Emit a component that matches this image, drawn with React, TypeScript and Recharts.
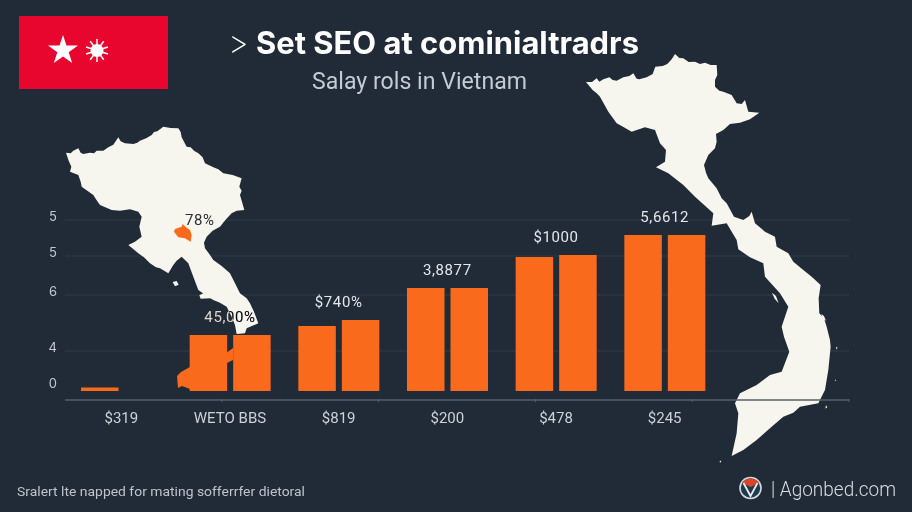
import { ComposedChart, Bar, Line, XAxis, YAxis, CartesianGrid, LabelList } from 'recharts';

const categories = ['$319', 'WETO BBS', '$819', '$200', '$478', '$245'];
const seriesA = [3.5, 56, 65, 103, 134, 156];
const seriesB = [0, 56, 71, 103, 136, 156];
const barLabels = ['', '45,00%', '$740%', '3,8877', '$1000', '5,6612'];
const yTicks = [0, 40, 96, 135, 171];
const yTickLabels = ['0', '4', '6', '5', '5'];
const gridValues = [40, 96, 135, 171];
const edgeTicks = [1, 2, 3, 4, 5, 6];

const data = categories.map((name, i) => ({
  name,
  a: seriesA[i],
  b: seriesB[i],
  top: Math.max(seriesA[i], seriesB[i]),
  label: barLabels[i],
}));

const BG = '#212a37';
const ORANGE = '#f96a1d';
const LAND = '#f6f6ee';
const FONT = 'Inter, "Noto Sans", sans-serif';
const LABEL_FONT = 'Roboto, Inter, sans-serif';

const LEFT_MAP =
  'M48 68L62 70L70 62L85 55L92 68L100 72L120 68L132 70L140 62L160 62L175 52L190 44L198 32L205 22L212 34L225 40L250 42L262 38L270 32L290 24L305 15L312 6L322 4L340 -10L362 -6L385 -5L392 6L395 22L410 50L422 52L432 62L445 70L458 82L465 100L490 112L505 118L520 130L548 135L575 145L568 170L575 182L570 195L576 215L583 240L560 242L545 250L528 268L510 290L488 302L470 320L462 338L465 355L478 372L490 390L515 408L540 430L555 460L570 490L590 505L600 520L612 545L625 580L590 595L585 610L560 612L555 585L545 560L530 530L510 518L490 510L470 498L445 480L430 440L415 400L395 380L380 392L370 405L355 430L330 415L318 412L300 400L282 382L265 370L235 345L255 335L275 320L268 290L275 260L265 245L240 238L210 242L185 240L150 225L138 208L130 195L95 170L92 155L85 135L60 125L64 110L56 92Z';
const LEFT_ISLES = 'M368 456L380 453L386 464L375 469ZM448 496L480 480L482 505L452 506Z';
const LEFT_BLOB = 'M375 297L395 290L398 282L408 292L420 300L425 315L422 335L405 325L385 322L372 305Z';
const RIGHT_MAP =
  'M18 96L36 96L50 85L58 95L70 88L88 82L98 90L110 92L130 82L148 78L160 70L170 86L178 88L200 82L218 72L226 50L248 48L262 42L275 28L285 12L298 24L310 25L326 36L345 35L360 42L375 38L392 45L410 45L412 75L405 90L405 110L418 122L430 125L455 135L470 160L485 162L495 150L505 185L538 188L510 208L480 218L450 222L430 240L408 252L410 275L405 295L385 315L372 345L378 368L385 385L410 415L425 445L440 460L462 500L490 510L508 498L515 485L525 520L555 545L585 560L590 590L625 610L640 635L670 660L695 680L722 705L716 745L718 790L732 805L740 830L750 870L752 890L748 930L745 960L735 1020L715 1060L660 1070L640 1088L610 1100L575 1130L530 1170L490 1200L455 1218L470 1150L475 1090L465 1060L480 1030L530 1005L570 975L605 965L628 905L612 860L605 830L625 770L600 730L555 680L550 640L510 622L475 598L470 570L440 520L395 527L400 490L345 440L310 405L265 370L228 352L255 335L258 300L240 280L225 240L195 232L155 245L125 228L110 220L85 185L60 140L50 130L38 120Z';
const RIGHT_ISLES =
  'M576 728L588 738L596 760L584 746ZM724 792L732 798L738 812L728 806ZM768 892L772 890L771 900ZM764 990L768 989L767 994ZM738 1066L742 1072L736 1076ZM418 1233L424 1232L422 1238Z';
const STAR = 'M63 35L66.5 45.5L78 45.5L68.7 52.3L72.2 63L63 56.5L53.8 63L57.3 52.3L48 45.5L59.5 45.5Z';
const SUN_RAYS = [0, 36, 72, 108, 144, 180, 216, 252, 288, 324];

const YTick = ({ x, y, index }: any) => (
  <text x={x} y={y} dy={index === 0 ? -3 : 1} textAnchor="end" fontFamily={FONT} fontSize={13} fill="#c3c9cf">
    {yTickLabels[index]}
  </text>
);

const GroupLabel = ({ x, y, width, value }: any) => (
  <text
    x={x + (width || 0) / 2}
    y={y - 13}
    textAnchor="middle"
    fontFamily={LABEL_FONT}
    fontSize={15}
    letterSpacing={0.6}
    fill={value === '45,00%' ? '#ffffff' : '#e4e7ea'}
    style={value === '45,00%' ? { mixBlendMode: 'difference' } : undefined}
  >
    {value}
  </text>
);

export default function App() {
  return (
    <div style={{ position: 'absolute', left: 0, top: 0, width: 912, height: 512, background: BG, overflow: 'hidden' }}>
      <ComposedChart
        width={912}
        height={512}
        data={data}
        margin={{ top: 199, right: 63, bottom: 83, left: 40 }}
        barSize={37.5}
        barGap={6}
      >
        <CartesianGrid xAxisId="names" horizontal vertical={false} horizontalValues={gridValues} stroke="#313c49" strokeWidth={1} />
        <XAxis
          xAxisId="edges"
          type="number"
          domain={[0, 7.215]}
          ticks={edgeTicks}
          interval={0}
          height={1}
          axisLine={false}
          tickLine={{ stroke: '#56616d' }}
          tickSize={3}
          tickFormatter={(v: number) => (v ? ' ' : ' ')}
        />
        <XAxis
          xAxisId="names"
          dataKey="name"
          height={29}
          padding={{ left: 2, right: 130 }}
          interval={0}
          tickLine={false}
          axisLine={{ stroke: '#56616d', strokeWidth: 1.5 }}
          tick={{ fill: '#cdd2d7', fontSize: 15, fontFamily: LABEL_FONT }}
          tickMargin={6}
        />
        <YAxis
          width={25}
          domain={[0, 192]}
          padding={{ bottom: 8 }}
          ticks={yTicks}
          interval={0}
          axisLine={false}
          tickLine={false}
          tick={<YTick />}
        />

        <g fill={LAND}>
          <g transform="translate(50 130) scale(0.3333)">
            <path d={LEFT_MAP} />
            <path d={LEFT_ISLES} />
            <path d={LEFT_BLOB} fill={ORANGE} />
          </g>
          <g transform="translate(580 50) scale(0.3333)">
            <path d={RIGHT_MAP} />
            <path d={RIGHT_ISLES} />
          </g>
        </g>

        <Bar xAxisId="names" dataKey="a" fill={ORANGE} isAnimationActive={false} />
        <Bar xAxisId="names" dataKey="b" fill={ORANGE} isAnimationActive={false} />
        <Line xAxisId="names" dataKey="top" stroke="none" dot={false} legendType="none" isAnimationActive={false}>
          <LabelList dataKey="label" content={<GroupLabel />} />
        </Line>

        {/* bits of orange that bleed off the bars */}
        <g fill={ORANGE}>
          <path d="M177 376L181 372L190 367L190 389L182 386L178 388Z" />
          <path d="M225 354L233 348L233 360L225 364Z" />
        </g>

        {/* flag */}
        <rect x={19} y={16} width={149} height={73} fill="#e8062e" />
        <path d={STAR} fill="#ffffff" />
        <g stroke="#ffffff" strokeWidth={1.5}>
          {SUN_RAYS.map((r) => (
            <line key={r} x1={97} y1={50.5} x2={97} y2={39} transform={`rotate(${r} 97 50.5)`} />
          ))}
        </g>
        <circle cx={97} cy={50.5} r={6.5} fill="#ffffff" />

        {/* titles */}
        <text x={228} y={54} fontFamily={FONT} fontSize={32} fontWeight={200} fill="#ffffff">&gt;</text>
        <text x={256} y={54} fontFamily={FONT} fontSize={31} fontWeight={700} fill="#ffffff" textLength={383} lengthAdjust="spacingAndGlyphs">
          Set SEO at cominialtradrs
        </text>
        <text x={312} y={89} fontFamily={LABEL_FONT} fontSize={24} fill="#c5cbd2" textLength={215} lengthAdjust="spacingAndGlyphs">
          Salay rols in Vietnam
        </text>
        <text x={185} y={225} fontFamily={LABEL_FONT} fontSize={15} letterSpacing={0.6} fill="#2b2f35">78%</text>

        {/* footer */}
        <text x={17} y={496} fontFamily={LABEL_FONT} fontSize={13} fill="#bfc4c9" textLength={288} lengthAdjust="spacingAndGlyphs">
          Sralert lte napped for mating sofferrfer dietoral
        </text>
        <circle cx={750.5} cy={488} r={10.5} fill="#1f3a4c" stroke="#d3dade" strokeWidth={1.6} />
        <path d="M742 483C745 477 756 477 759 483L750.5 487Z" fill="#d8452a" />
        <path d="M743.5 483L750.5 496L757.5 483" fill="none" stroke="#e8ecee" strokeWidth={1.8} />
        <text x={771} y={496} fontFamily={LABEL_FONT} fontSize={21} fontWeight={300} fill="#d9dde0" textLength={125} lengthAdjust="spacingAndGlyphs">
          | Agonbed.com
        </text>
      </ComposedChart>
    </div>
  );
}
